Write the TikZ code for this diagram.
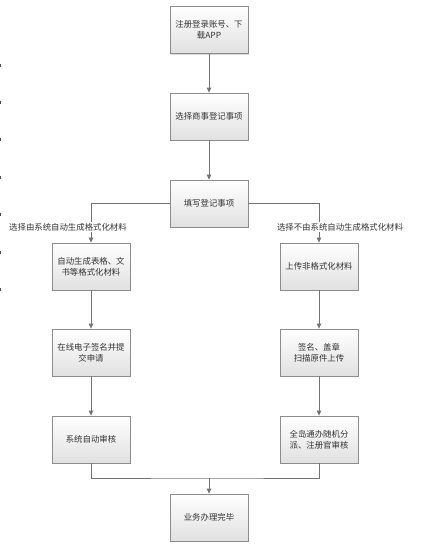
\documentclass[tikz,border=0pt]{standalone}
\usepackage{fontspec}
\setmainfont{Noto Sans CJK SC}
\usetikzlibrary{arrows.meta,shadows,positioning}
\begin{document}
\begin{tikzpicture}[x=1pt,y=-1pt,
  box/.style={draw=black!45,line width=0.8pt,top color=white,bottom color=black!12,
    minimum width=78pt,minimum height=47pt,inner sep=2pt,align=center,
    font=\fontsize{8.4pt}{11pt}\selectfont,text=black!80,
    drop shadow={shadow xshift=1.2pt,shadow yshift=-1.2pt,fill=black!25,opacity=0.6}},
  conn/.style={draw=black!55,line width=0.8pt},
  arr/.style={conn,-{Triangle[length=5pt,width=4.5pt]}},
  lbl/.style={fill=white,inner sep=1pt,font=\fontsize{8.4pt}{10pt}\selectfont,text=black!80},
  tick/.style={draw=black!70,line width=1pt}]
\useasboundingbox (0,0) rectangle (423,560);
\fill[white] (0,0) rectangle (423,560);
\foreach \yy in {65,102,139,177,214,252,289} \draw[tick] (0.5,\yy-1.5) -- (0.5,\yy+1.5);
\node[box] (n1) at (209,30) {注册登录账号、下\\载APP};
\node[box] (n2) at (209,116.5) {选择商事登记事项};
\node[box] (n3) at (209,203.5) {填写登记事项};
\node[box] (l1) at (91,266.5) {自动生成表格、文\\书等格式化材料};
\node[box] (l2) at (91,352.5) {在线电子签名并提\\交申请};
\node[box] (l3) at (91,439.5) {系统自动审核};
\node[box] (r1) at (319,266.5) {上传非格式化材料};
\node[box] (r2) at (319,352.5) {签名、盖章\\扫描原件上传};
\node[box] (r3) at (319,439.5) {全岛通办随机分\\派、注册官审核};
\node[box] (e) at (209,517.5) {业务办理完毕};
\coordinate (lc) at (91,203.5);
\coordinate (rc) at (319,203.5);
\coordinate (mc) at (209,478);
\draw[arr] (n1) -- (n2);
\draw[arr] (n2) -- (n3);
\draw[arr] (n3.west) -- (lc) -- (l1.north);
\draw[arr] (n3.east) -- (rc) -- (r1.north);
\node[lbl] (ll) at (68,227) {选择由系统自动生成格式化材料};
\node[lbl] (rl) at (340,227) {选择不由系统自动生成格式化材料};
\draw[arr] (l1) -- (l2);
\draw[arr] (l2) -- (l3);
\draw[arr] (r1) -- (r2);
\draw[arr] (r2) -- (r3);
\draw[conn] (l3.south) |- (mc) -| (r3.south);
\draw[arr] (mc) -- (e.north);
\end{tikzpicture}
\end{document}
